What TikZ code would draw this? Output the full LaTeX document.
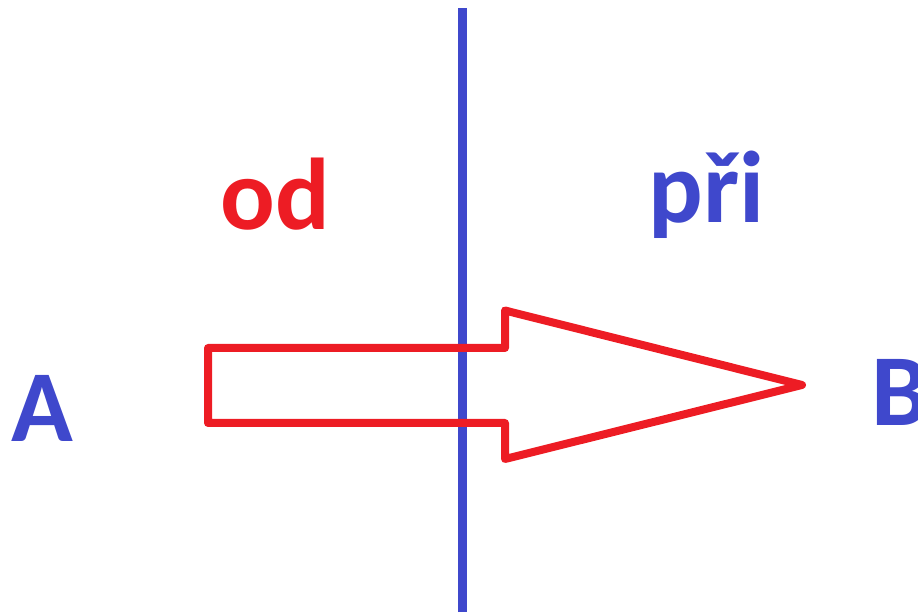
\documentclass[tikz,border=0pt]{standalone}
\usepackage{fontspec}
\setmainfont{Carlito}
\usetikzlibrary{positioning}
\definecolor{pblue}{HTML}{3F48CC}
\definecolor{pred}{HTML}{ED1C24}

\begin{document}
\begin{tikzpicture}[x=1cm, y=1cm,
    lbl/.style={inner sep=0pt, anchor=base, font=\fontsize{58}{68}\selectfont\bfseries}]
  \useasboundingbox (0,0) rectangle (18.36,12.24);
  \def\xl{9.25}\def\ym{4.54}
  % dividing line
  \draw[pblue, line width=0.17cm] (\xl,0) -- (\xl,12.08);
  % hollow arrow from A to B
  \coordinate (tip) at (16.04,\ym);
  \draw[pred, line width=0.16cm, line join=round]
     (4.16,5.28) -- (10.10,5.28) -- (10.10,6.03) -- (tip)
     -- (10.10,3.06) -- (10.10,3.78) -- (4.16,3.78) -- cycle;
  \node[lbl, pred]  (od)  at (5.51,7.64) {od};
  \node[lbl, pblue] (pri) at (14.13,7.78) {při};
  \node[lbl, pblue] (A)   at (0.85,3.40) {A};
  \node[lbl, pblue, anchor=base west] (B) at (17.42,3.72) {B};
\end{tikzpicture}
\end{document}
